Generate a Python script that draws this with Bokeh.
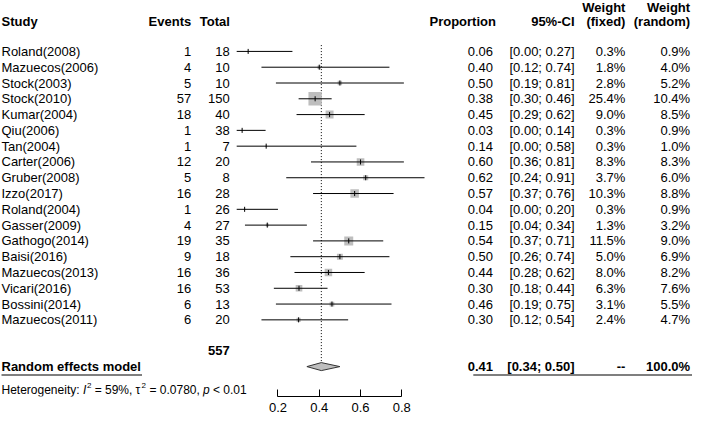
import math
from bokeh.plotting import figure
from bokeh.models import ColumnDataSource, Range1d, FixedTicker, Label
from bokeh.core.properties import value
from bokeh.embed import file_html
from bokeh.resources import INLINE

# ---------------- data ----------------
studies = ["Roland(2008)", "Mazuecos(2006)", "Stock(2003)", "Stock(2010)", "Kumar(2004)",
           "Qiu(2006)", "Tan(2004)", "Carter(2006)", "Gruber(2008)", "Izzo(2017)",
           "Roland(2004)", "Gasser(2009)", "Gathogo(2014)", "Baisi(2016)", "Mazuecos(2013)",
           "Vicari(2016)", "Bossini(2014)", "Mazuecos(2011)"]
events = [1, 4, 5, 57, 18, 1, 1, 12, 5, 16, 1, 4, 19, 9, 16, 16, 6, 6]
totals = [18, 10, 10, 150, 40, 38, 7, 20, 8, 28, 26, 27, 35, 18, 36, 53, 13, 20]
prop = [0.06, 0.40, 0.50, 0.38, 0.45, 0.03, 0.14, 0.60, 0.62, 0.57, 0.04, 0.15, 0.54,
        0.50, 0.44, 0.30, 0.46, 0.30]
lower = [0.00, 0.12, 0.19, 0.30, 0.29, 0.00, 0.00, 0.36, 0.24, 0.37, 0.00, 0.04, 0.37,
         0.26, 0.28, 0.18, 0.19, 0.12]
upper = [0.27, 0.74, 0.81, 0.46, 0.62, 0.14, 0.58, 0.81, 0.91, 0.76, 0.20, 0.34, 0.71,
         0.74, 0.62, 0.44, 0.75, 0.54]
w_fixed = [0.3, 1.8, 2.8, 25.4, 9.0, 0.3, 0.3, 8.3, 3.7, 10.3, 0.3, 1.3, 11.5, 5.0, 8.0,
           6.3, 3.1, 2.4]
w_random = [0.9, 4.0, 5.2, 10.4, 8.5, 0.9, 1.0, 8.3, 6.0, 8.8, 0.9, 3.2, 9.0, 6.9, 8.2,
            7.6, 5.5, 4.7]
pooled_est = 0.41
pooled_lower = 0.34
pooled_upper = 0.50
pooled_total = 557
pooled_w_random = "100.0%"
model_label = "Random effects model"
tick_values = [0.2, 0.4, 0.6, 0.8]

# ---------------- layout ----------------
W, H = 692, 418
FRAME_H = 396
X0_PX, PX_PER_UNIT = 236.2, 206.4      # screen position of proportion 0 and scale
ROW0_PX, ROW_PX = 50.92, 15.79         # screen y of first study row, row spacing


def X(px):
    return (px - X0_PX) / PX_PER_UNIT


def U(py):
    return (py - ROW0_PX) / ROW_PX


FONT = value("Liberation Sans")
COL_STUDY = X(1)
COL_EVENTS = X(190.7)
COL_TOTAL = X(229.3)
COL_PROP = X(492.5)
COL_PROP_H = X(495.4)
COL_CI = X(574.0)
COL_WF = X(624.9)
COL_WR = X(689.6)
Y_HEAD1 = U(6.5)
Y_HEAD2 = U(21.0)
Y_TOTAL = U(349.7)
Y_MODEL = U(366.1)
Y_ULINE = U(374.5)
Y_HET = U(389.0)

p = figure(width=W, height=H, output_backend="svg", toolbar_location=None,
           x_range=Range1d(X(0), X(W)), y_range=Range1d(U(FRAME_H), U(0)),
           y_axis_location=None, min_border_left=0, min_border_right=0,
           min_border_top=0, min_border_bottom=H - FRAME_H,
           outline_line_color=None, background_fill_color="white",
           border_fill_color="white")
p.grid.visible = False

rows = list(range(len(studies)))
est = [e / n for e, n in zip(events, totals)]
src = ColumnDataSource(dict(
    y=rows, study=studies, ev=[str(e) for e in events], tot=[str(n) for n in totals],
    est=est, lo=lower, hi=upper,
    sz=[max(1.0, 2.65 * math.sqrt(w)) for w in w_fixed],
    tlo=[r - 0.16 for r in rows], thi=[r + 0.16 for r in rows],
    ptxt=[f"{v:.2f}" for v in prop],
    citxt=[f"[{l:.2f}; {u:.2f}]" for l, u in zip(lower, upper)],
    wftxt=[f"{w:.1f}%" for w in w_fixed],
    wrtxt=[f"{w:.1f}%" for w in w_random],
))

common = dict(text_font=FONT, text_font_size="13px", text_baseline="middle",
              text_color="black")

# table columns
p.text(x=COL_STUDY, y="y", text="study", source=src, text_align="left", **common)
p.text(x=COL_EVENTS, y="y", text="ev", source=src, text_align="right", **common)
p.text(x=COL_TOTAL, y="y", text="tot", source=src, text_align="right", **common)
p.text(x=COL_PROP, y="y", text="ptxt", source=src, text_align="right", **common)
p.text(x=COL_CI, y="y", text="citxt", source=src, text_align="right", **common)
p.text(x=COL_WF, y="y", text="wftxt", source=src, text_align="right", **common)
p.text(x=COL_WR, y="y", text="wrtxt", source=src, text_align="right", **common)

# headers
bold = dict(common, text_font_style="bold")
p.text(x=[COL_STUDY], y=[Y_HEAD2], text=["Study"], text_align="left", **bold)
p.text(x=[COL_EVENTS], y=[Y_HEAD2], text=["Events"], text_align="right", **bold)
p.text(x=[COL_TOTAL], y=[Y_HEAD2], text=["Total"], text_align="right", **bold)
p.text(x=[COL_PROP_H], y=[Y_HEAD2], text=["Proportion"], text_align="right", **bold)
p.text(x=[COL_CI], y=[Y_HEAD2], text=["95%-CI"], text_align="right", **bold)
p.text(x=[COL_WF, COL_WF], y=[Y_HEAD1, Y_HEAD2], text=["Weight", "(fixed)"],
       text_align="right", **bold)
p.text(x=[COL_WR, COL_WR], y=[Y_HEAD1, Y_HEAD2], text=["Weight", "(random)"],
       text_align="right", **bold)

# summary row
p.text(x=[COL_TOTAL], y=[Y_TOTAL], text=[str(pooled_total)], text_align="right", **bold)
p.text(x=[COL_STUDY], y=[Y_MODEL], text=[model_label], text_align="left", **bold)
p.text(x=[COL_PROP], y=[Y_MODEL], text=[f"{pooled_est:.2f}"], text_align="right", **bold)
p.text(x=[COL_CI], y=[Y_MODEL], text=[f"[{pooled_lower:.2f}; {pooled_upper:.2f}]"],
       text_align="right", **bold)
p.text(x=[COL_WF], y=[Y_MODEL], text=["--"], text_align="right", **bold)
p.text(x=[COL_WR], y=[Y_MODEL], text=[pooled_w_random], text_align="right", **bold)
p.segment(x0=[X(1), X(472.8)], y0=[Y_ULINE, Y_ULINE], x1=[X(141.5), X(W)],
          y1=[Y_ULINE, Y_ULINE], line_color="black", line_width=1.2)

# reference line
dh = 4.0 / ROW_PX
p.segment(x0=[pooled_est], y0=[U(44.6)], x1=[pooled_est], y1=[Y_MODEL - dh],
          line_color="black", line_width=1, line_dash="1 2")

# study markers
p.scatter(x="est", y="y", size="sz", marker="square", source=src,
          fill_color="#BEBEBE", line_color=None)
p.segment(x0="lo", y0="y", x1="hi", y1="y", source=src, line_color="black", line_width=1)
p.segment(x0="est", y0="tlo", x1="est", y1="thi", source=src, line_color="black",
          line_width=1)

# diamond
p.patch(x=[pooled_lower, pooled_est, pooled_upper, pooled_est],
        y=[Y_MODEL, Y_MODEL - dh, Y_MODEL, Y_MODEL + dh],
        fill_color="#BEBEBE", line_color="#333333", line_width=1)

# axis
ax = p.xaxis[0]
ax.ticker = FixedTicker(ticks=tick_values)
ax.bounds = (tick_values[0], tick_values[-1])
ax.major_tick_in = 7
ax.major_tick_out = 0
ax.minor_tick_in = 0
ax.minor_tick_out = 0
ax.major_label_standoff = 6
ax.major_label_text_font = "Liberation Sans"
ax.major_label_text_font_size = "13px"
ax.major_label_text_color = "black"
ax.axis_line_color = "black"
ax.major_tick_line_color = "black"

# heterogeneity line (non-breaking spaces keep leading blanks in SVG text)
NB = "\u00a0"
het_parts = [
    (0.0, "Heterogeneity:", "normal", "12px", 0.0),
    (81.4, "I", "italic", "12px", 0.0),
    (85.4, "2", "normal", "8px", 4.5),
    (89.8, f"{NB}={NB}59%,", "normal", "12px", 0.0),
    (134.0, "\u03c4", "normal", "12px", 0.0),
    (140.0, "2", "normal", "8px", 4.5),
    (144.6, f"{NB}={NB}0.0780,", "normal", "12px", 0.0),
    (201.4, "p", "italic", "12px", 0.0),
    (208.1, f"{NB}<{NB}0.01", "normal", "12px", 0.0),
]
for off, txt, style, size, rise in het_parts:
    p.add_layout(Label(x=X(1 + off), y=Y_HET - rise / ROW_PX, text=txt,
                       text_font="Liberation Sans", text_font_size=size,
                       text_font_style=style, text_baseline="middle",
                       text_align="left", text_color="black"))

open("out.html", "w").write(file_html(p, INLINE))
